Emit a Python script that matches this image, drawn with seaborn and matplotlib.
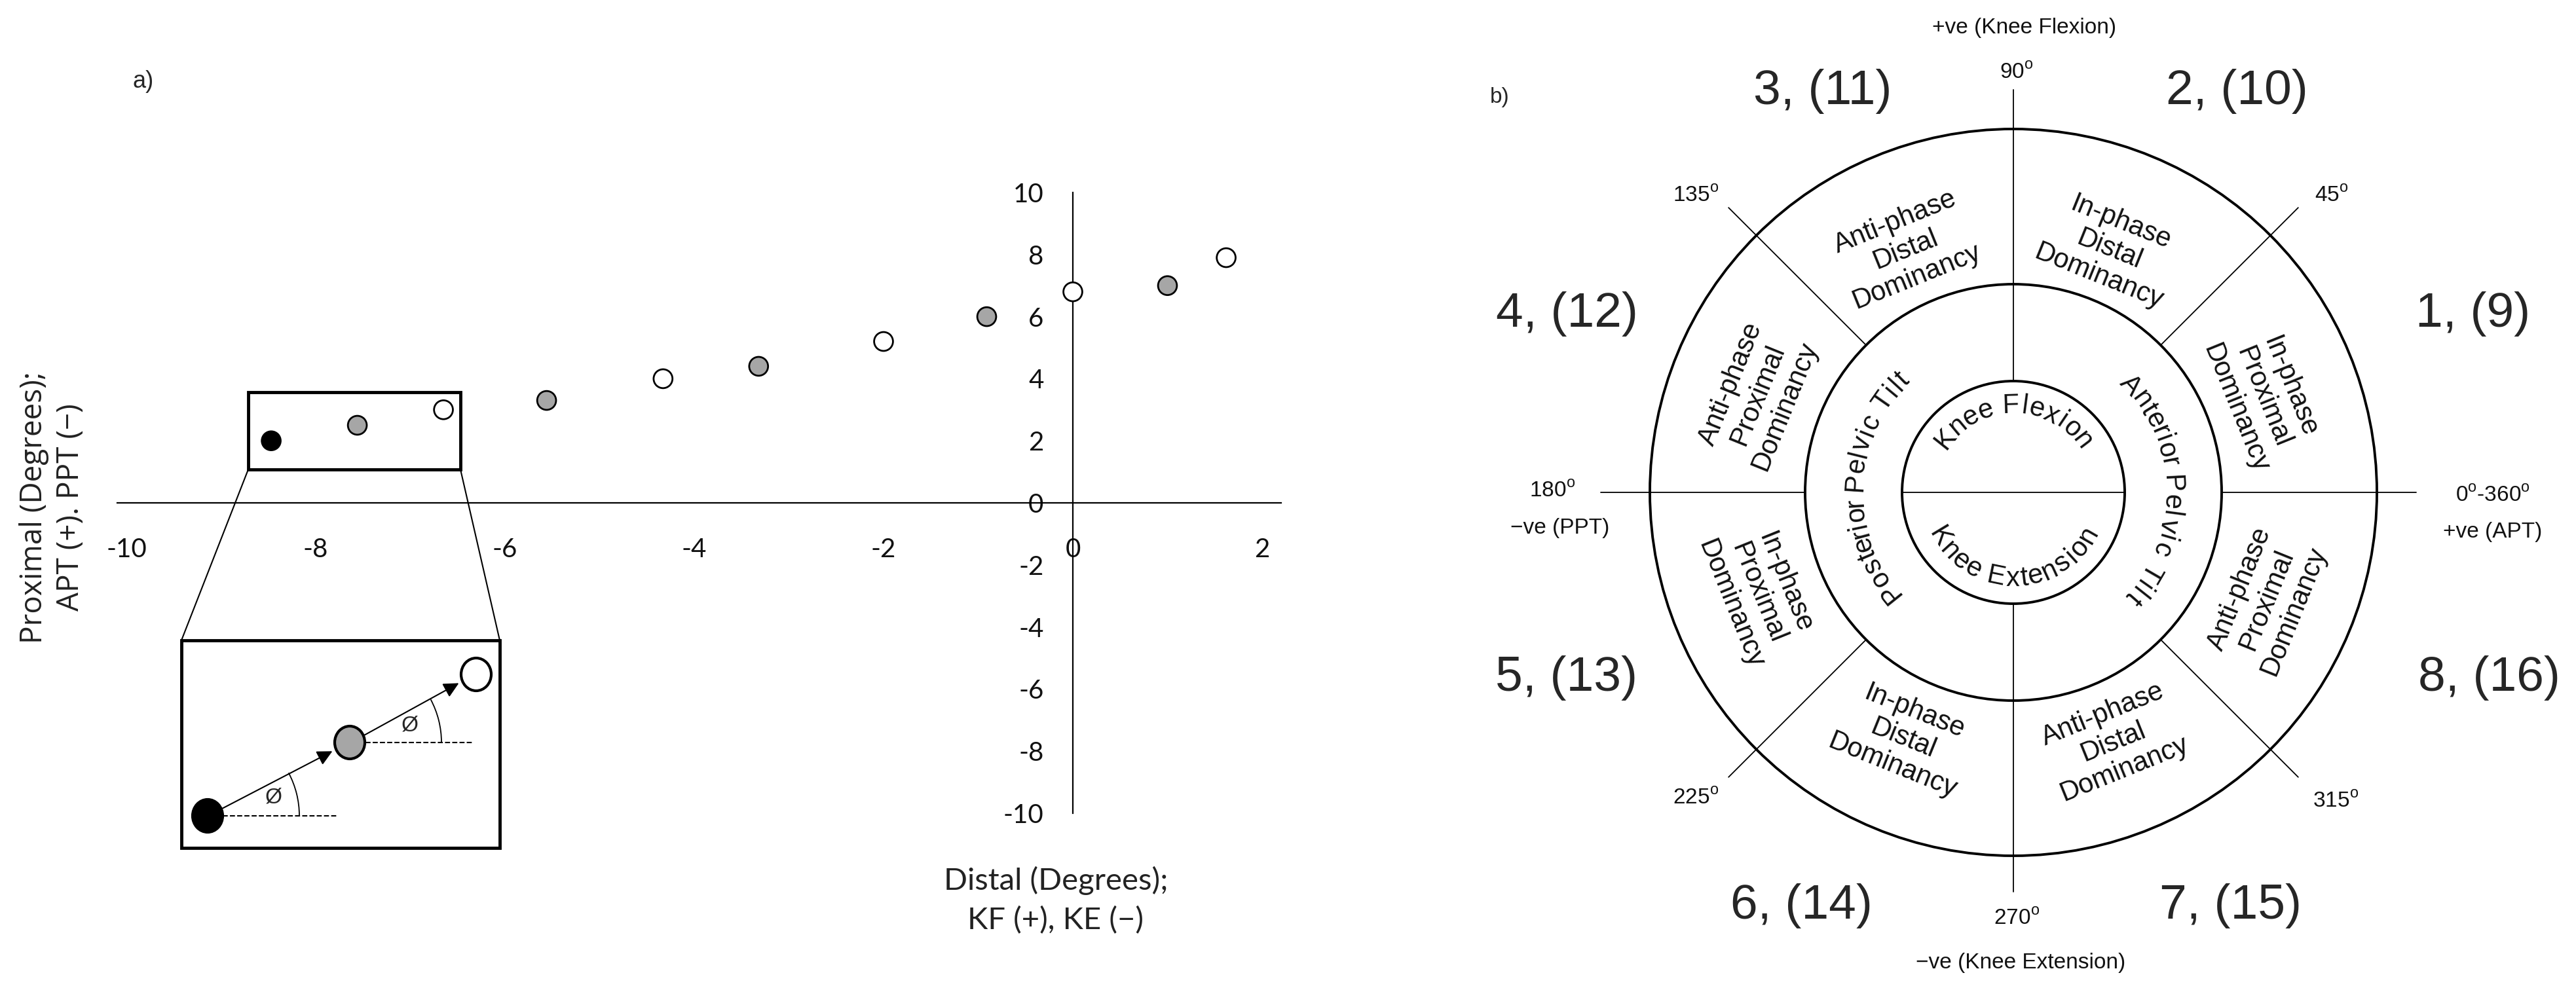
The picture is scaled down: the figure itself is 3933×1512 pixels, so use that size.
import numpy as np
import pandas as pd
import matplotlib
matplotlib.use("Agg")
import matplotlib.pyplot as plt
import seaborn as sns
from matplotlib.patches import Ellipse, Rectangle, Arc, FancyArrowPatch

# ---------------- data ----------------
distal = [-8.47, -7.56, -6.65, -5.56, -4.33, -3.32, -2.0, -0.91, 0.0, 1.0, 1.62]
proximal = [2.0, 2.5, 3.0, 3.3, 4.0, 4.4, 5.2, 6.0, 6.8, 7.0, 7.9]
phase = ["start", "mid", "end", "mid", "end", "mid", "end", "mid", "end", "mid", "end"]
x_ticks = [-10, -8, -6, -4, -2, 0, 2]
y_ticks = [-10, -8, -6, -4, -2, 0, 2, 4, 6, 8, 10]
region_labels = ["1, (9)", "2, (10)", "3, (11)", "4, (12)",
                 "5, (13)", "6, (14)", "7, (15)", "8, (16)"]
angle_labels = ["0$^\\mathrm{o}$-360$^\\mathrm{o}$", "45$^\\mathrm{o}$", "90$^\\mathrm{o}$",
                "135$^\\mathrm{o}$", "180$^\\mathrm{o}$", "225$^\\mathrm{o}$",
                "270$^\\mathrm{o}$", "315$^\\mathrm{o}$"]
ring_texts = ["In-phase\nProximal\nDominancy", "In-phase\nDistal\nDominancy",
              "Anti-phase\nDistal\nDominancy", "Anti-phase\nProximal\nDominancy",
              "In-phase\nProximal\nDominancy", "In-phase\nDistal\nDominancy",
              "Anti-phase\nDistal\nDominancy", "Anti-phase\nProximal\nDominancy"]

df = pd.DataFrame({"distal": distal, "proximal": proximal, "phase": phase})

sns.set_theme(style="white")
plt.rcParams['font.family'] = ['Liberation Sans', 'DejaVu Sans']
plt.rcParams['mathtext.fontset'] = 'custom'
plt.rcParams['mathtext.rm'] = 'Liberation Sans'
W, H = 3933, 1512
fig = plt.figure(figsize=(W / 100, H / 100), dpi=100)

# ---------------- panel a: scatter ----------------
x0pix, xs = 1638, 144.5
y0pix, ys = 768, 47.4
xl = (-11, 2.5); yl = (-10.5, 10.5)
left = (x0pix + xl[0] * xs) / W
width = (xl[1] - xl[0]) * xs / W
top = y0pix - yl[1] * ys
height = (yl[1] - yl[0]) * ys / H
bottom = 1 - (top / H) - height
ax = fig.add_axes([left, bottom, width, height])
sns.scatterplot(data=df, x="distal", y="proximal", hue="phase",
                palette={"start": "black", "mid": "#a6a6a6", "end": "white"},
                edgecolor="black", linewidth=2, s=430, legend=False, ax=ax, zorder=5)
ax.set_xlim(*xl); ax.set_ylim(*yl)
for s in ["top", "right"]:
    ax.spines[s].set_visible(False)
ax.spines["left"].set_position(("data", 0))
ax.spines["bottom"].set_position(("data", 0))
ax.spines["left"].set_bounds(-10, 10)
ax.spines["bottom"].set_bounds(-10.1, 2.2)
for s in ["left", "bottom"]:
    ax.spines[s].set_linewidth(1.6)
    ax.spines[s].set_color("black")
ax.set_xticks(x_ticks); ax.set_yticks(y_ticks)
ax.set_xticklabels([str(v) for v in x_ticks], family=['Lato', 'DejaVu Sans'])
ax.set_yticklabels([str(v) for v in y_ticks], family=['Lato', 'DejaVu Sans'])
ax.tick_params(axis="x", length=0, pad=38, labelsize=29, colors="#111111")
ax.tick_params(axis="y", length=0, pad=32, labelsize=29, colors="#111111")
ax.set_xlabel(""); ax.set_ylabel("")
ax.patch.set_alpha(0)

# ---------------- overlay (pixel coords) ----------------
ov = fig.add_axes([0, 0, 1, 1])
ov.set_xlim(0, W); ov.set_ylim(H, 0); ov.axis("off")
ov.patch.set_alpha(0)

ov.text(219, 125, "a)", fontsize=26, ha="center", va="center")
ov.text(80, 775, "Proximal (Degrees);\nAPT (+). PPT (\u2212)", rotation=90,
        fontsize=33, ha="center", va="center", family=['Open Sans', 'DejaVu Sans'],
        color="#222222", linespacing=1.3)
ov.text(1612, 1375, "Distal (Degrees);\nKF (+), KE (\u2212)", fontsize=34,
        ha="center", va="center", family=['Lato', 'DejaVu Sans'], color="#222222",
        linespacing=1.5)

# zoom box and inset
ov.add_patch(Rectangle((379, 599), 324, 118, fill=False, lw=3.5, ec="black"))
ov.plot([379, 277], [717, 978], color="black", lw=1.5)
ov.plot([703, 763], [717, 978], color="black", lw=1.5)
ov.add_patch(Rectangle((277, 978), 486, 317, fill=False, lw=3.5, ec="black"))
pts = [(317, 1246, "black"), (534, 1134, "#a6a6a6"), (727, 1030, "white")]
for (xa, ya, _), (xb, yb, _) in zip(pts[:-1], pts[1:]):
    ov.add_patch(FancyArrowPatch((xa + 20, ya - 10), (xb - 24, yb + 12),
                                 arrowstyle="-|>,head_length=14,head_width=7",
                                 lw=1.5, color="black", zorder=3))
for xc, yc, c in pts:
    ov.add_patch(Ellipse((xc, yc), 46, 50, fc=c, ec="black", lw=3, zorder=4))
ov.plot([340, 515], [1246, 1246], ls="--", color="black", lw=1.5)
ov.plot([558, 723], [1134, 1134], ls="--", color="black", lw=1.5)
ov.add_patch(Arc((317, 1246), 280, 280, theta1=-28, theta2=0, lw=1.3, color="black"))
ov.add_patch(Arc((534, 1134), 280, 280, theta1=-28, theta2=0, lw=1.3, color="black"))
ov.text(418, 1218, "\u00d8", fontsize=24, ha="center", va="center")
ov.text(626, 1108, "\u00d8", fontsize=24, ha="center", va="center")

# ---------------- panel b: circle diagram ----------------
cx, cy = 3074, 752
R_out, R_mid, R_in = 555, 318, 170
for r in (R_out, R_mid, R_in):
    ov.add_patch(Ellipse((cx, cy), 2 * r, 2 * r, fill=False, lw=2.8, ec="black"))
lw_thin = 1.3
ov.plot([cx - 630, cx - R_mid], [cy, cy], color="black", lw=lw_thin)
ov.plot([cx - R_in, cx + R_in], [cy, cy], color="black", lw=lw_thin)
ov.plot([cx + R_mid, cx + 615], [cy, cy], color="black", lw=lw_thin)
ov.plot([cx, cx], [cy - 615, cy - R_in], color="black", lw=lw_thin)
ov.plot([cx, cx], [cy + R_in, cy + 610], color="black", lw=lw_thin)
for a in (45, 135, 225, 315):
    t = np.deg2rad(a)
    ov.plot([cx + R_mid * np.cos(t), cx + 615 * np.cos(t)],
            [cy - R_mid * np.sin(t), cy - 615 * np.sin(t)], color="black", lw=lw_thin)

ov.text(2290, 149, "b)", fontsize=24, ha="center", va="center")
ang_pos = [(3806, 757), (3560, 299), (3079, 111), (2589, 299),
           (2370, 750), (2589, 1219), (3079, 1403), (3566, 1224)]
for (px, py), lab in zip(ang_pos, angle_labels):
    ov.text(px, py, lab, fontsize=24, ha="center", va="center", color="#111111")
ov.text(2382, 807, "\u2212ve (PPT)", fontsize=24, ha="center", va="center", color="#111111")
ov.text(3806, 812, "+ve (APT)", fontsize=24, ha="center", va="center", color="#111111")
ov.text(3091, 43, "+ve (Knee Flexion)", fontsize=24, ha="center", va="center", color="#111111")
ov.text(3085, 1470, "\u2212ve (Knee Extension)", fontsize=24, ha="center", va="center", color="#111111")

reg_pos = [(3776, 479), (3415, 140), (2783, 140), (2392, 479),
           (2392, 1036), (2750, 1383), (3406, 1383), (3800, 1036)]
for (px, py), lab in zip(reg_pos, region_labels):
    ov.text(px, py, lab, fontsize=54, ha="center", va="center")

ring_pos = [(3455, 607, -68), (3221, 381, -22), (2910, 381, 22), (2684, 603, 68),
            (2684, 906, -68), (2906, 1128, -22), (3227, 1133, 22), (3461, 916, 68)]
for (px, py, rot), lab in zip(ring_pos, ring_texts):
    ov.text(px, py, lab, fontsize=30, ha="center", va="center", rotation=rot,
            rotation_mode="anchor", linespacing=1.15, color="#111111")

def char_w(ch):
    if ch == " ":
        return 0.28
    if ch in "iltfrjI":
        return 0.3
    if ch in "mwM":
        return 0.85
    if ch.isupper():
        return 0.68
    return 0.55

def curved(text, r, a_start, a_end, outward=True, fs=30):
    widths = np.array([char_w(c) for c in text])
    cum = np.cumsum(widths) - widths / 2
    frac = cum / widths.sum()
    for c, f in zip(text, frac):
        a = a_start + (a_end - a_start) * f
        t = np.deg2rad(a)
        rot = a - 90 if outward else a + 90
        ov.text(cx + r * np.cos(t), cy - r * np.sin(t), c, fontsize=fs,
                rotation=rot, rotation_mode="anchor", ha="center", va="center",
                color="#111111")

curved("Posterior Pelvic Tilt", 242, 222, 133, outward=True)
curved("Anterior Pelvic Tilt", 242, 46, -43, outward=True)
curved("Knee Flexion", 132, 148, 32, outward=True)
curved("Knee Extension", 132, 205, 335, outward=False)

fig.savefig("out.png", dpi=100)
